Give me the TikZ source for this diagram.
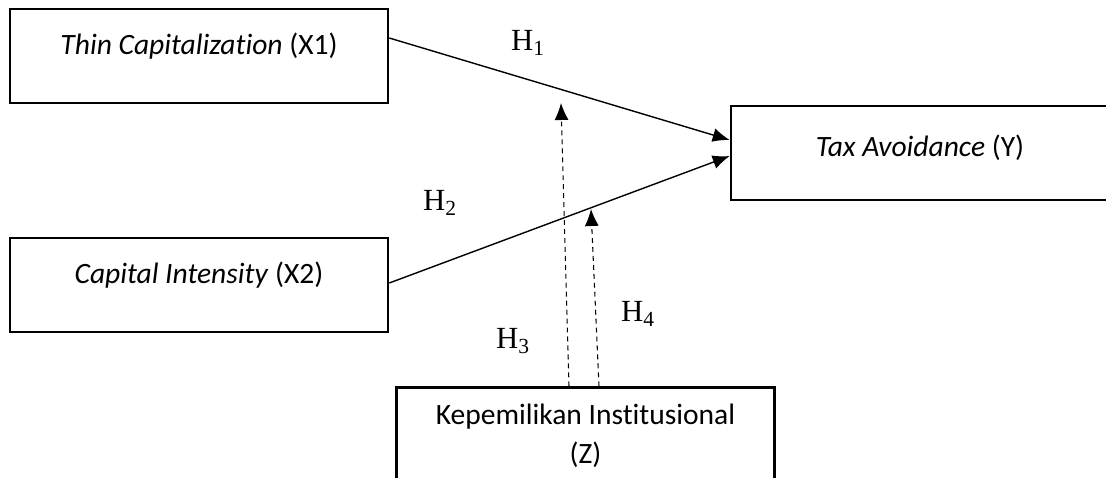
\documentclass[tikz,border=0pt]{standalone}
\usepackage{fontspec}
\setmainfont{Liberation Serif}
\newfontfamily\calibri[Ligatures={NoCommon,NoContextual,NoRare}]{Carlito}
\usetikzlibrary{arrows.meta}

\tikzset{
  box/.style={draw, line width=1.5pt, inner sep=0pt, minimum width=7.56cm,
    font=\calibri\fontsize{16.8}{22}\selectfont},
  varbox/.style={box, text height=0.9cm, text depth=0.98cm},
  zbox/.style={box, align=center, minimum height=1.94cm},
  hyp/.style={font=\fontsize{17.5}{20}\selectfont},
  link/.style={->, line width=0.8pt},
  modlink/.style={->, line width=0.6pt, dash pattern=on 2.8pt off 2.3pt}
}

\begin{document}
\begin{tikzpicture}[>={Latex[length=3.4mm,width=2.8mm]},x=0.02cm,y=-0.02cm]
\useasboundingbox (0,0) rectangle (1106,477);
\clip (0,0) rectangle (1106,477);

% variables
\node[varbox] (x1) at (199,56) {\textit{Thin Capitalizat\kern0pt ion} (X1)};
\node[varbox] (x2) at (199,285) {\textit{Capital Intensity} (X2)};
\node[varbox, text height=1.0cm, text depth=0.88cm] (y) at (920,153) {\textit{Tax Avoidance} (Y)};
\node[zbox] (z) at (585.5,436) {Kepemilikan Inst\kern0pt itusional\\(Z)};

% direct effects
\draw[link] ([yshift=0.36cm]x1.east) -- ([yshift=0.26cm]y.west);
\draw[link] ([yshift=0.04cm]x2.east) -- ([yshift=-0.06cm]y.west);

% moderation
\coordinate (h3tip) at (561,103);
\coordinate (h4tip) at (591,209);
\draw[modlink] ([xshift=-0.33cm]z.north) -- (h3tip);
\draw[modlink] ([xshift=0.27cm]z.north) -- (h4tip);

% hypotheses
\node[hyp] (h1) at (528,43) {H\textsubscript{1}};
\node[hyp] (h2) at (440,203) {H\textsubscript{2}};
\node[hyp] (h3) at (513,341) {H\textsubscript{3}};
\node[hyp] (h4) at (638,314) {H\textsubscript{4}};
\end{tikzpicture}
\end{document}
